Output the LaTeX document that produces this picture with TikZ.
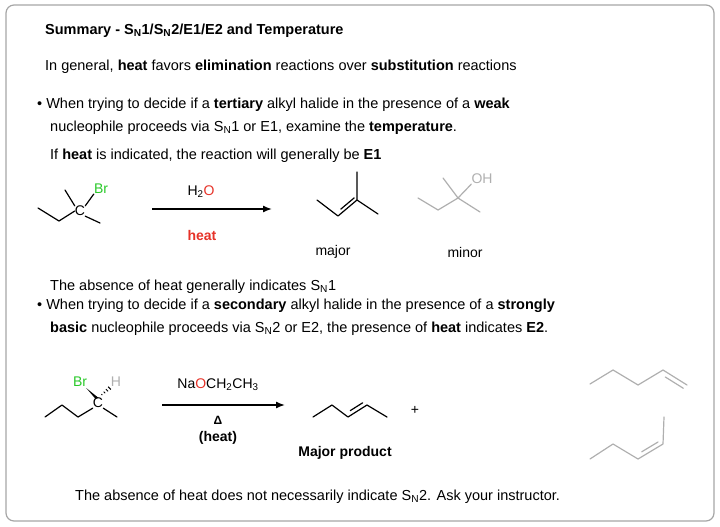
\documentclass[tikz,border=0pt]{standalone}
\usepackage{fontspec}
\setmainfont{Liberation Sans}
\usetikzlibrary{positioning,arrows.meta,calc}
\definecolor{brcolor}{RGB}{40,200,40}
\definecolor{ocolor}{RGB}{230,50,40}
\definecolor{minorcolor}{RGB}{175,175,175}
\newcommand{\SN}{S\textsubscript{N}}

\begin{document}
\begin{tikzpicture}[x=1pt,y=-1pt,
    txt/.style={anchor=west, inner sep=0pt, font=\fontsize{14.5}{17}\selectfont},
    lbl/.style={inner sep=0pt, font=\fontsize{14}{16}\selectfont},
    bond/.style={line width=1.2pt, line join=round, line cap=round},
    minorbond/.style={bond, minorcolor},
    rxnarrow/.style={-{Latex[length=9pt,width=7pt]}, line width=1.4pt}
]
    \useasboundingbox (0,0) rectangle (720,527);
    \draw[gray!70, line width=1.2pt, rounded corners=8pt] (6,5) rectangle (714,521);

    % Texts
    \node[txt, font=\bfseries\fontsize{14.5}{17}\selectfont] (title) at (45,31) {Summary - \SN1/\SN2/E1/E2 and Temperature};
    \node[txt] (general) at (45,67) {In general, \textbf{heat} favors \textbf{elimination} reactions over \textbf{substitution} reactions};
    \node[txt] (bulleta) at (37,105) {\textbullet\ When trying to decide if a \textbf{tertiary} alkyl halide in the presence of a \textbf{weak}};
    \node[txt] (bulletb) at (50,128) {nucleophile proceeds via \SN1 or E1, examine the \textbf{temperature}.};
    \node[txt] (ifheat) at (50,156) {If \textbf{heat} is indicated, the reaction will generally be \textbf{E1}};
    \node[txt] (absence1) at (50,287) {The absence of heat generally indicates \SN1};
    \node[txt] (bulletc) at (37,306) {\textbullet\ When trying to decide if a \textbf{secondary} alkyl halide in the presence of a \textbf{strongly}};
    \node[txt] (bulletd) at (50,329) {\textbf{basic} nucleophile proceeds via \SN2 or E2, the presence of \textbf{heat} indicates \textbf{E2}.};
    \node[txt] (absence2) at (75,497) {The absence of heat does not necessarily indicate \SN2. Ask your instructor.};

    % Tertiary bromide
    \node[lbl] (c1) at (80,211) {C};
    \node[lbl, brcolor] (br1) at (101,189) {Br};
    \coordinate (a1) at (38,208);
    \coordinate (a2) at (59,221);
    \draw[bond] (a1) -- (a2) -- (c1.west);
    \draw[bond] (c1.north west) -- (65,190);
    \draw[bond] (c1.south east) -- (100,223);
    \draw[bond] (c1.north east) -- (br1.south west);

    % Arrow E1
    \coordinate (r1s) at (152,209);
    \coordinate (r1e) at (272,209);
    \draw[rxnarrow] (r1s) -- (r1e);
    \node[lbl] (water) at (201,192) {H\textsubscript{2}\textcolor{ocolor}{O}};
    \node[lbl, ocolor, font=\bfseries\fontsize{14}{16}\selectfont] (heat1) at (202,235) {heat};

    % Major alkene
    \coordinate (m1) at (317,200);
    \coordinate (m2) at (338,216);
    \coordinate (m3) at (357,200);
    \draw[bond] (m1) -- (m2) -- (m3) -- (357,172);
    \draw[bond] (m3) -- (378,214);
    \draw[bond] ($(m2)!0.15!(m3)+(0,-4.5)$) -- ($(m2)!0.85!(m3)+(0,-4.5)$);
    \node[lbl] (major) at (333,252) {major};

    % Minor alcohol
    \node[lbl, minorcolor] (oh) at (482,179) {OH};
    \coordinate (n3) at (458,198);
    \draw[minorbond] (418,198) -- (438,210) -- (n3) -- (443,178);
    \draw[minorbond] (n3) -- (480,212);
    \draw[minorbond] (n3) -- (oh.south west);
    \node[lbl] (minor) at (465,252) {minor};

    % Secondary bromide
    \node[lbl] (c2) at (98,403) {C};
    \node[lbl, brcolor] (br2) at (80,382) {Br};
    \node[lbl, minorcolor] (h2) at (116,382) {H};
    \draw[bond] (45,417) -- (62,405) -- (78,417) -- (c2.south west);
    \draw[bond] (c2.south east) -- (117,417);
    \fill (br2.south east) ++(-1,1) -- ($(c2.north)+(-2.5,1)$) -- ($(c2.north)+(0.5,0)$) -- cycle;
    \foreach \t in {0.3,0.5,0.7,0.9}
        \draw[line width=0.9pt] ($(c2.north)!\t!(h2.south west)+(-1.5*\t,-1.5*\t)$) -- ++(3*\t,3*\t);

    % Arrow E2
    \coordinate (r2s) at (162,405);
    \coordinate (r2e) at (285,405);
    \draw[rxnarrow] (r2s) -- (r2e);
    \node[lbl] (base) at (218,385) {Na\textcolor{ocolor}{O}CH\textsubscript{2}CH\textsubscript{3}};
    \node[lbl, font=\bfseries\fontsize{12}{14}\selectfont] (delta) at (218,420) {Δ};
    \node[lbl, font=\bfseries\fontsize{14}{16}\selectfont] (heat2) at (218,438) {(heat)};

    % trans-2-pentene
    \coordinate (p2) at (332,405);
    \coordinate (p3) at (348,417);
    \coordinate (p4) at (367,405);
    \draw[bond] (313,417) -- (p2) -- (p3) -- (p4) -- (387,417);
    \draw[bond] ($(p3)!0.2!(p4)+(-1.5,-4)$) -- ($(p3)!0.85!(p4)+(-1.5,-4)$);
    \node[lbl, font=\bfseries\fontsize{14}{16}\selectfont] (majorprod) at (345,453) {Major product};
    \node[lbl] (plus) at (415,410) {+};

    % 1-pentene
    \coordinate (q4) at (663,370);
    \coordinate (q5) at (687,385);
    \draw[minorbond] (590,384) -- (613,370) -- (638,385) -- (q4) -- (q5);
    \draw[minorbond] ($(q4)!0.2!(q5)+(-2.5,4)$) -- ($(q4)!0.95!(q5)+(-2.5,4)$);

    % cis-2-pentene
    \coordinate (s3) at (638,459);
    \coordinate (s4) at (663,444);
    \draw[minorbond] (590,459) -- (613,444) -- (s3) -- (s4) -- (664,417);
    \draw[minorbond] ($(s3)!0.15!(s4)+(0,-5)$) -- ($(s3)!0.8!(s4)+(0,-5)$);
\end{tikzpicture}
\end{document}
